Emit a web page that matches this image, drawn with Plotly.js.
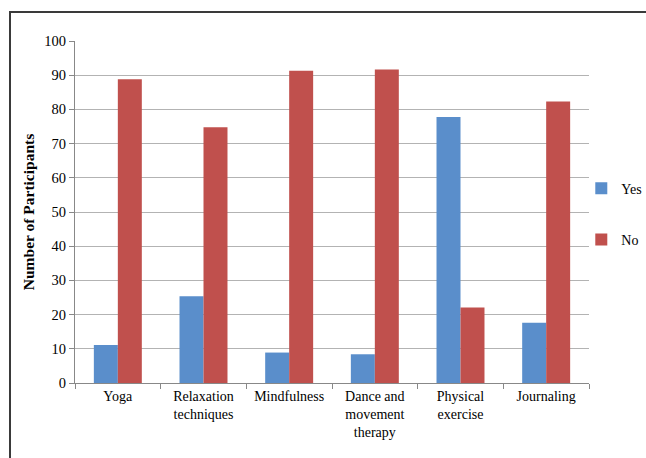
<!DOCTYPE html>
<html>
<head>
<meta charset="utf-8">
<script src="https://cdn.plot.ly/plotly-3.0.1.min.js"></script>
<style>
  html, body { margin: 0; padding: 0; background: #fff; }
  #wrap { position: relative; width: 646px; height: 458px; overflow: hidden; }
  #frame { position: absolute; left: 9px; top: 11px; width: 700px; height: 500px;
           border-left: 2px solid #3a3a3a; border-top: 2px solid #3a3a3a; pointer-events: none; }
  #chart { position: absolute; left: 0; top: 0; width: 646px; height: 458px; }
</style>
</head>
<body>
<div id="wrap">
  <div id="chart"></div>
  <div id="frame"></div>
</div>
<script>
const categories = ["Yoga", "Relaxation<br>techniques", "Mindfulness", "Dance and<br>movement<br>therapy", "Physical<br>exercise", "Journaling"];
const yesValues = [11.1, 25.4, 8.9, 8.4, 77.8, 17.6];
const noValues = [88.8, 74.8, 91.3, 91.7, 22.1, 82.3];
const yTicks = [0, 10, 20, 30, 40, 50, 60, 70, 80, 90, 100];

const font = "'Liberation Serif', 'Times New Roman', serif";

const data = [
  { type: "bar", name: "Yes", x: categories, y: yesValues, marker: { color: "#5a8ecb" }, legendgroup: "a" },
  { type: "bar", name: "No", x: categories, y: noValues, marker: { color: "#c0504d" }, legendgroup: "b" }
];

const layout = {
  width: 646, height: 458,
  margin: { l: 75, r: 57, t: 41, b: 75, autoexpand: false },
  paper_bgcolor: "#fff", plot_bgcolor: "#fff",
  font: { family: font, size: 14, color: "#000" },
  barmode: "group",
  bargap: 0.44,
  bargroupgap: 0,
  showlegend: true,
  legend: { x: 0.985, xanchor: "left", y: 0.615, yanchor: "top", tracegroupgap: 30,
            font: { family: font, size: 14, color: "#000" }, itemwidth: 30, bgcolor: "rgba(0,0,0,0)" },
  xaxis: {
    type: "category",
    tickson: "boundaries",
    ticks: "outside", ticklen: 5, tickcolor: "#888",
    showline: true, linecolor: "#888", linewidth: 1,
    showgrid: false,
    tickfont: { family: font, size: 14, color: "#000" }
  },
  yaxis: {
    range: [0, 100],
    tickvals: yTicks,
    ticks: "outside", ticklen: 5, tickcolor: "#888",
    showline: true, linecolor: "#888", linewidth: 1,
    gridcolor: "#b3b3b3", gridwidth: 1,
    zeroline: false,
    tickfont: { family: font, size: 14.5, color: "#000" },
    title: { text: "<b>Number of Participants</b>", font: { family: font, size: 15.5, color: "#000" }, standoff: 5 }
  }
};

Plotly.newPlot("chart", data, layout, { displayModeBar: false, staticPlot: true });
</script>
</body>
</html>
